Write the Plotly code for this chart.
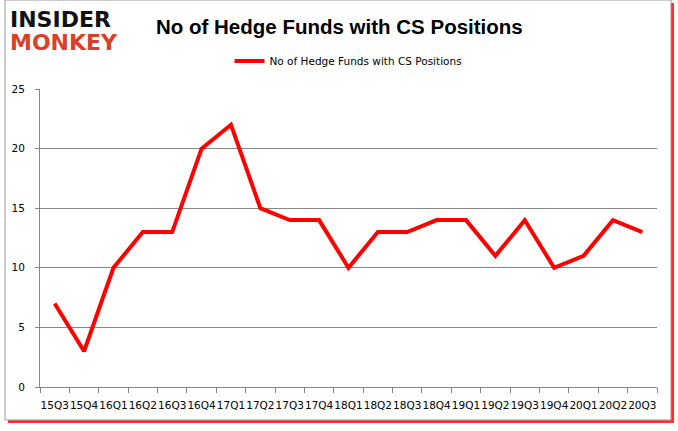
import plotly.graph_objects as go

quarters = ["15Q3", "15Q4", "16Q1", "16Q2", "16Q3", "16Q4", "17Q1", "17Q2", "17Q3", "17Q4",
            "18Q1", "18Q2", "18Q3", "18Q4", "19Q1", "19Q2", "19Q3", "19Q4", "20Q1", "20Q2", "20Q3"]
funds = [7, 3, 10, 13, 13, 20, 22, 15, 14, 14, 10, 13, 13, 14, 14, 11, 14, 10, 11, 14, 13]
series_name = "No of Hedge Funds with CS Positions"
title_text = "No of Hedge Funds with CS Positions"

W, H = 678, 431
L, R, T, B = 40, 21, 89, 44
pw, ph = W - L - R, H - T - B

def px(x):
    return (x - L) / pw

def py(y):
    return (H - B - y) / ph

fig = go.Figure()
fig.add_trace(go.Scatter(
    x=quarters, y=funds, mode="lines", name=series_name,
    line=dict(color="#ff0000", width=4),
))

shapes = [
    dict(type="rect", xref="paper", yref="paper", layer="below",
         x0=px(8), x1=px(674), y0=py(3), y1=py(423),
         fillcolor="#ff3030", line=dict(width=0)),
    dict(type="rect", xref="paper", yref="paper", layer="below",
         x0=px(5), x1=px(671), y0=py(0), y1=py(420),
         fillcolor="white", line=dict(color="#9a9a9a", width=1)),
]

annotations = [
    dict(text="<b>INSIDER</b>", x=px(8), y=py(19), xref="paper", yref="paper",
         xanchor="left", yanchor="middle", showarrow=False,
         font=dict(family="DejaVu Sans", size=22, color="#111111")),
    dict(text="<b>MONKEY</b>", x=px(8), y=py(42), xref="paper", yref="paper",
         xanchor="left", yanchor="middle", showarrow=False,
         font=dict(family="DejaVu Sans", size=22, color="#d9402a")),
    dict(text="<b>" + title_text + "</b>", x=px(339), y=py(27), xref="paper", yref="paper",
         xanchor="center", yanchor="middle", showarrow=False,
         font=dict(family="Liberation Sans", size=20.5, color="#000000")),
]

fig.update_layout(
    width=W, height=H,
    margin=dict(l=L, r=R, t=T, b=B, pad=0),
    paper_bgcolor="white", plot_bgcolor="white",
    shapes=shapes, annotations=annotations,
    showlegend=True,
    legend=dict(orientation="h", x=0.5, xanchor="center", y=py(61), yanchor="middle",
                font=dict(family="DejaVu Sans", size=10.5, color="#000000"),
                bgcolor="rgba(0,0,0,0)", itemwidth=30),
    xaxis=dict(
        type="category", range=[-0.5, len(quarters) - 0.5],
        showgrid=False, showline=True, linecolor="#868686", linewidth=1,
        ticks="outside", tickson="boundaries", ticklen=5, tickcolor="#868686",
        tickfont=dict(family="DejaVu Sans", size=10.5, color="#000000"),
        ticklabelstandoff=8, tickangle=0, fixedrange=True,
    ),
    yaxis=dict(
        range=[0, 25], dtick=5, showgrid=True, gridcolor="#868686", gridwidth=1,
        showline=True, linecolor="#868686", linewidth=1, zeroline=False,
        ticks="outside", ticklen=4, tickcolor="#868686",
        tickfont=dict(family="DejaVu Sans", size=10.5, color="#000000"),
        ticklabelstandoff=8, fixedrange=True,
    ),
)

fig.write_html("out.html", config={"displayModeBar": False},
               post_script="document.body.style.margin='0';")
